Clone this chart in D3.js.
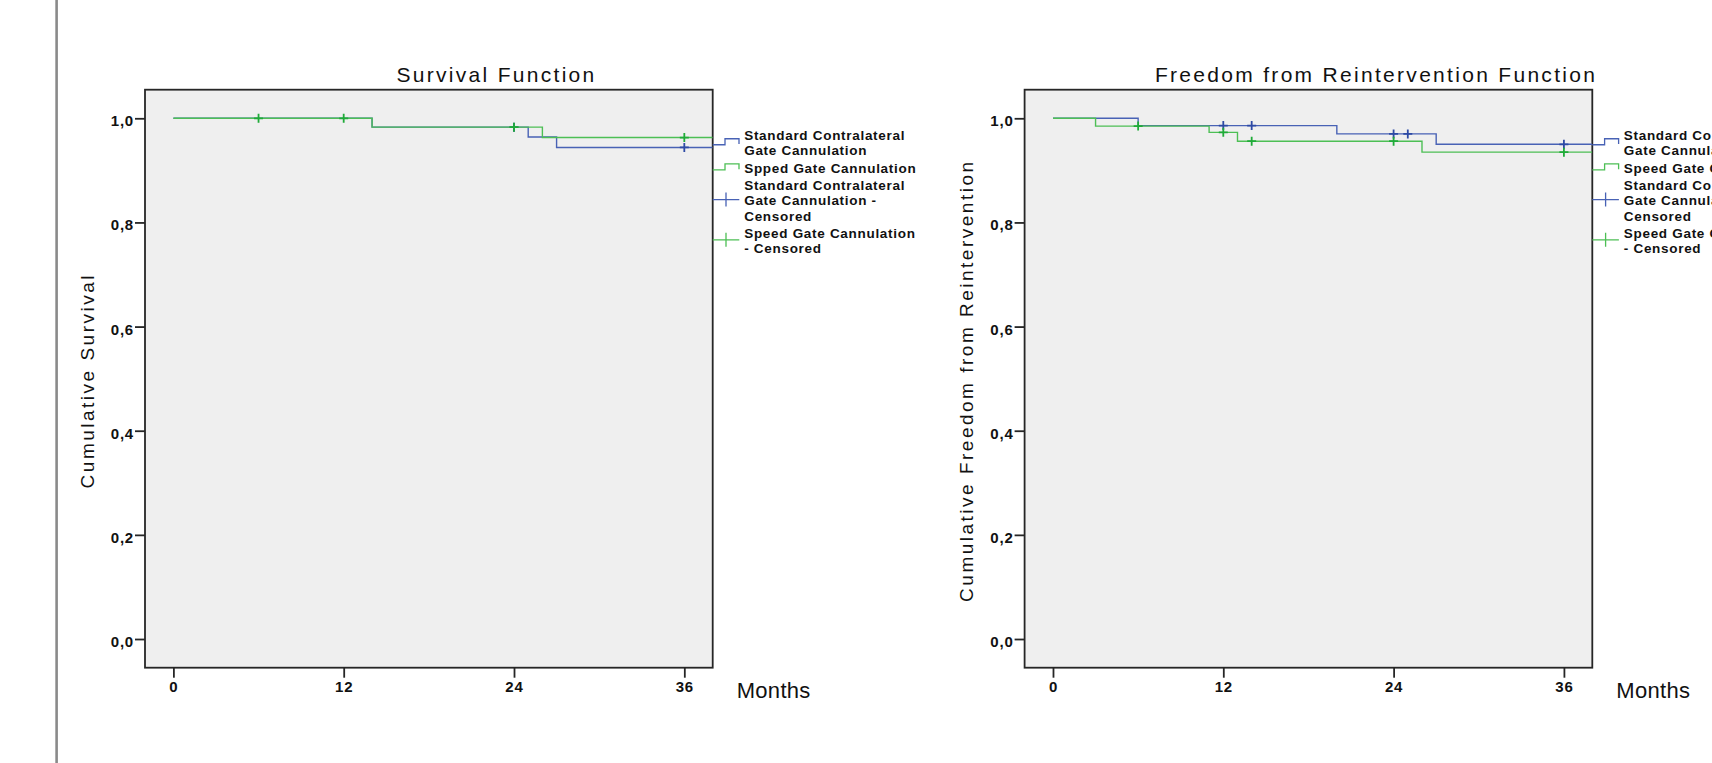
<!DOCTYPE html>
<html>
<head>
<meta charset="utf-8">
<style type="text/css">
    body {
        margin: 0;
        background: #fff;
        overflow: hidden;
    }

    svg text {
        font-family: "Liberation Sans", Arial, sans-serif;
        fill: #111;
    }

    .frame {
        fill: #efefef;
        stroke: #262626;
        stroke-width: 1.8;
    }

    .axis line {
        stroke: #262626;
        stroke-width: 1.8;
    }

    .axis text {
        font-size: 15px;
        font-weight: bold;
        letter-spacing: 0.8px;
        fill: #111;
    }

    .title {
        font-size: 21px;
        letter-spacing: 2.3px;
    }

    .ylabel {
        font-size: 19px;
        letter-spacing: 2.5px;
    }

    .xlabel {
        font-size: 22px;
        letter-spacing: 0.3px;
    }

    .legend text {
        font-size: 13.5px;
        font-weight: bold;
        letter-spacing: 0.7px;
    }
</style>
</head>
<body>
<script src="https://d3js.org/d3.v7.min.js"></script>
<script type="text/javascript">

    // tick values
    var xTicks = [0, 12, 24, 36];
    var yTicks = [0, 0.2, 0.4, 0.6, 0.8, 1.0];

    // Survival Function (months, cumulative survival after each event)
    var survStdTimes = [14, 25, 27];
    var survStdLevels = [0.983, 0.964, 0.944];
    var survSpeedTimes = [14, 26];
    var survSpeedLevels = [0.983, 0.963];
    var survStdCensored = [24, 36];
    var survSpeedCensored = [6, 12, 24, 36];

    // Freedom from Reintervention Function
    var reintStdTimes = [6, 20, 27];
    var reintStdLevels = [0.986, 0.970, 0.950];
    var reintSpeedTimes = [3, 11, 13, 26];
    var reintSpeedLevels = [0.985, 0.973, 0.956, 0.935];
    var reintStdCensored = [12, 14, 24, 25, 36];
    var reintSpeedCensored = [6, 12, 14, 24, 36];

    var survLegend = [
        ["Standard Contralateral", "Gate Cannulation"],
        ["Spped Gate Cannulation"],
        ["Standard Contralateral", "Gate Cannulation -", "Censored"],
        ["Speed Gate Cannulation", "- Censored"]
    ];
    var reintLegend = [
        ["Standard Contralateral", "Gate Cannulation"],
        ["Speed Gate Cannulation"],
        ["Standard Contralateral", "Gate Cannulation -", "Censored"],
        ["Speed Gate Cannulation", "- Censored"]
    ];

    var blueLine = "#4862b5", greenLine = "#4dbf55";
    var blueMark = "#2d4aa5", greenMark = "#1fab38";

    var width = 1712, height = 763;
    var frameW = 567.7, frameTop = 89.7, frameBottom = 667.7;

    var svg = d3.select("body").append("svg")
        .attr("width", width)
        .attr("height", height);

    // page edge on the left
    svg.append("rect")
        .attr("x", 55.3).attr("y", 0)
        .attr("width", 2.6).attr("height", height)
        .style("fill", "#8a8a8a");

    function levelAt(times, levels, t) {
        var v = 1;
        times.forEach(function (d, i) { if (d <= t) v = levels[i]; });
        return v;
    }

    function drawPanel(id, left, title, yTitle, std, speed, legendRows) {
        var right = left + frameW;
        var x = d3.scaleLinear().domain([-2, 38]).range([left, right]);
        var y = d3.scaleLinear().domain([-0.0551, 1.0549]).range([frameBottom, frameTop]);

        var g = svg.append("g");

        g.append("rect")
            .attr("class", "frame")
            .attr("x", left).attr("y", frameTop)
            .attr("width", frameW).attr("height", frameBottom - frameTop);

        g.append("clipPath").attr("id", "clip" + id)
            .append("rect")
            .attr("x", left).attr("y", frameTop)
            .attr("width", frameW).attr("height", frameBottom - frameTop);

        // axes
        var xAxis = g.append("g")
            .attr("class", "axis")
            .attr("transform", "translate(0," + frameBottom + ")")
            .call(d3.axisBottom(x).tickValues(xTicks).tickSize(10).tickPadding(4).tickSizeOuter(0));
        xAxis.select(".domain").remove();

        var yAxis = g.append("g")
            .attr("class", "axis")
            .attr("transform", "translate(" + left + ",0)")
            .call(d3.axisLeft(y).tickValues(yTicks).tickSize(10).tickPadding(1)
                .tickFormat(function (d) { return d3.format(".1f")(d).replace(".", ","); }));
        yAxis.select(".domain").remove();
        yAxis.selectAll("text").attr("dy", "0.5em");

        var line = d3.line()
            .curve(d3.curveStepAfter)
            .x(function (d) { return x(d[0]); })
            .y(function (d) { return y(d[1]); });

        var plot = g.append("g").attr("clip-path", "url(#clip" + id + ")");

        [std, speed].forEach(function (s) {
            var pts = [[0, 1]];
            s.times.forEach(function (t, i) { pts.push([t, s.levels[i]]); });
            pts.push([x.domain()[1], s.levels[s.levels.length - 1]]);

            plot.append("path")
                .attr("d", line(pts))
                .style("fill", "none")
                .style("stroke", s.line)
                .style("stroke-width", 1.4);

            plot.selectAll(null)
                .data(s.censored)
                .enter().append("path")
                .attr("d", function (t) {
                    var cx = x(t), cy = y(levelAt(s.times, s.levels, t));
                    return "M" + (cx - 4.5) + "," + cy + "H" + (cx + 4.5) +
                        "M" + cx + "," + (cy - 4.5) + "V" + (cy + 4.5);
                })
                .style("fill", "none")
                .style("stroke", s.mark)
                .style("stroke-width", 1.8);
        });

        // titles
        g.append("text")
            .attr("class", "title")
            .attr("x", left + 351.5)
            .attr("y", 82.3)
            .attr("text-anchor", "middle")
            .text(title);

        g.append("text")
            .attr("class", "ylabel")
            .attr("transform", "translate(" + (left - 51.5) + "," + ((frameTop + frameBottom) / 2 + 2) + ") rotate(-90)")
            .attr("text-anchor", "middle")
            .text(yTitle);

        g.append("text")
            .attr("class", "xlabel")
            .attr("x", right + 24)
            .attr("y", 697.7)
            .text("Months");

        // legend
        var lg = g.append("g").attr("class", "legend");
        var symbols = ["stepBlue", "stepGreen", "plusBlue", "plusGreen"];
        var base = frameTop + 50.3, lineH = 15.2;
        legendRows.forEach(function (rows, i) {
            var first = base, last = base + (rows.length - 1) * lineH;
            var cy = (first - 9.7 + last) / 2 - 1;
            rows.forEach(function (r, j) {
                lg.append("text")
                    .attr("x", right + 31.5)
                    .attr("y", first + j * lineH)
                    .text(r);
            });
            var sym = symbols[i];
            var col = sym.indexOf("Blue") > 0 ? blueLine : greenLine;
            var d;
            if (sym.indexOf("step") === 0) {
                d = "M" + right + "," + (cy + 3) + "H" + (right + 12.3) + "V" + (cy - 3) +
                    "H" + (right + 26.3) + "V" + (cy + 2.3);
            } else {
                d = "M" + right + "," + cy + "H" + (right + 26.6) +
                    "M" + (right + 13.3) + "," + (cy - 7) + "V" + (cy + 7);
            }
            lg.append("path")
                .attr("d", d)
                .style("fill", "none")
                .style("stroke", col)
                .style("stroke-width", 1.3);
            base = last + 17.5;
        });
    }

    drawPanel("a", 145, "Survival Function", "Cumulative Survival",
        { times: survStdTimes, levels: survStdLevels, censored: survStdCensored, line: blueLine, mark: blueMark },
        { times: survSpeedTimes, levels: survSpeedLevels, censored: survSpeedCensored, line: greenLine, mark: greenMark },
        survLegend);

    drawPanel("b", 1024.6, "Freedom from Reintervention Function", "Cumulative Freedom from Reintervention",
        { times: reintStdTimes, levels: reintStdLevels, censored: reintStdCensored, line: blueLine, mark: blueMark },
        { times: reintSpeedTimes, levels: reintSpeedLevels, censored: reintSpeedCensored, line: greenLine, mark: greenMark },
        reintLegend);

</script>
</body>
</html>
